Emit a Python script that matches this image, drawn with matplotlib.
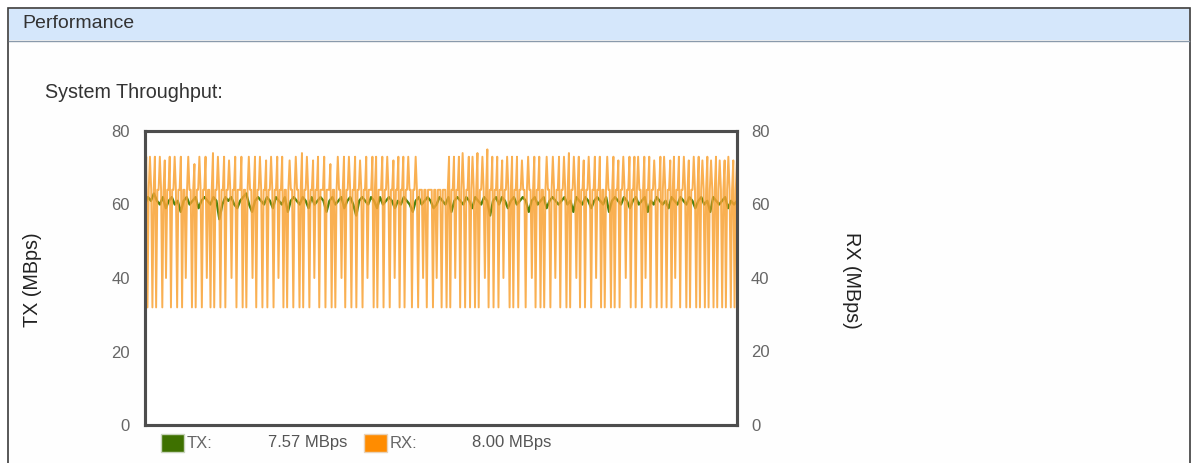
import matplotlib
matplotlib.use('Agg')
import matplotlib.pyplot as plt
from matplotlib.patches import Rectangle
import numpy as np

plt.rcParams['font.family'] = ['Liberation Sans', 'DejaVu Sans']

# RX throughput samples (MBps)
rx_values = [
    64, 73, 32, 64, 73, 64, 32, 64, 73, 32, 64, 64, 73, 64, 32, 64, 72, 40, 64, 64, 73, 32, 64, 64,
    73, 64, 32, 64, 64, 73, 32, 64, 64, 40, 64, 73, 64, 64, 32, 64, 71, 32, 64, 64, 73, 64, 32, 64,
    64, 73, 40, 64, 64, 32, 64, 74, 32, 64, 64, 73, 64, 32, 64, 64, 73, 32, 64, 64, 72, 64, 40, 64,
    64, 73, 32, 64, 64, 64, 73, 32, 64, 64, 32, 64, 73, 64, 64, 40, 64, 73, 32, 64, 64, 73, 64, 32,
    64, 64, 72, 32, 64, 64, 73, 64, 32, 64, 64, 73, 40, 64, 64, 73, 32, 64, 64, 32, 64, 72, 64, 64,
    32, 64, 73, 64, 64, 32, 64, 74, 32, 64, 64, 73, 64, 32, 64, 64, 72, 40, 64, 64, 73, 32, 64, 64,
    64, 73, 32, 64, 64, 64, 71, 32, 64, 64, 32, 64, 73, 64, 64, 40, 64, 73, 32, 64, 64, 73, 64, 32,
    64, 64, 73, 32, 64, 64, 72, 64, 32, 64, 64, 73, 40, 64, 64, 64, 73, 32, 64, 73, 32, 64, 64, 64,
    73, 32, 64, 64, 73, 64, 32, 64, 64, 72, 40, 64, 64, 73, 32, 64, 64, 73, 32, 64, 64, 73, 64, 64,
    32, 64, 64, 73, 64, 32, 64, 64, 64, 40, 64, 64, 32, 64, 64, 64, 64, 32, 64, 64, 40, 64, 64, 64,
    32, 64, 64, 64, 32, 64, 73, 32, 64, 64, 73, 40, 64, 64, 73, 32, 64, 74, 64, 32, 64, 64, 73, 32,
    64, 73, 64, 32, 64, 74, 32, 64, 64, 73, 64, 40, 64, 75, 32, 64, 64, 73, 32, 64, 64, 73, 32, 64,
    64, 72, 40, 64, 64, 73, 64, 32, 64, 73, 32, 64, 64, 73, 32, 64, 64, 72, 64, 64, 32, 64, 73, 64,
    64, 40, 64, 73, 32, 64, 64, 73, 32, 64, 64, 32, 64, 73, 64, 64, 32, 64, 73, 64, 40, 64, 64, 73,
    32, 64, 64, 73, 64, 32, 64, 74, 32, 64, 64, 73, 64, 40, 64, 73, 32, 64, 64, 72, 32, 64, 64, 73,
    64, 32, 64, 64, 73, 40, 64, 64, 73, 32, 64, 64, 32, 64, 73, 64, 64, 32, 64, 73, 32, 64, 64, 72,
    32, 64, 64, 73, 64, 40, 64, 64, 73, 32, 64, 64, 73, 32, 64, 73, 64, 64, 32, 64, 73, 40, 64, 64,
    73, 32, 64, 64, 72, 64, 32, 64, 64, 73, 32, 64, 73, 64, 32, 64, 64, 72, 32, 64, 73, 40, 64, 64,
    73, 32, 64, 64, 73, 64, 32, 64, 72, 32, 64, 64, 73, 64, 32, 64, 73, 32, 64, 72, 64, 32, 64, 73,
    32, 64, 72, 64, 32, 64, 73, 32, 64, 72, 64, 32, 64, 72, 32, 64, 73, 64, 32, 64, 72, 32, 64, 72,
]

# TX throughput samples (MBps)
tx_values = [
    60, 62, 61, 63, 61, 60, 62, 59, 61, 62, 60, 61, 58, 61, 62, 60, 61, 62, 59, 61,
    62, 61, 60, 62, 61, 56, 60, 62, 61, 62, 60, 59, 61, 62, 63, 60, 58, 61, 62, 61,
    60, 62, 61, 59, 62, 61, 60, 62, 58, 61, 62, 61, 60, 62, 61, 59, 62, 60, 61, 62,
    61, 58, 61, 62, 60, 61, 62, 59, 61, 62, 60, 57, 61, 62, 61, 60, 62, 61, 59, 62,
    60, 61, 62, 61, 59, 61, 60, 62, 61, 60, 58, 61, 62, 60, 61, 62, 61, 59, 60, 62,
    61, 60, 62, 58, 61, 62, 61, 60, 62, 61, 59, 62, 61, 60, 62, 61, 57, 61, 62, 60,
    62, 61, 59, 61, 62, 60, 61, 62, 61, 58, 61, 62, 60, 61, 62, 59, 61, 62, 61, 60,
    61, 62, 60, 61, 58, 62, 61, 60, 62, 61, 59, 61, 62, 61, 60, 62, 58, 61, 62, 61,
    60, 62, 61, 59, 61, 62, 60, 61, 62, 58, 61, 60, 62, 61, 60, 61, 59, 62, 61, 60,
    62, 61, 60, 62, 61, 59, 61, 62, 60, 61, 58, 62, 61, 60, 61, 62, 59, 61, 60, 61,
]

y_ticks = [0, 20, 40, 60, 80]
tx_current = '7.57 MBps'
rx_current = '8.00 MBps'

W, H = 1193, 463
fig = plt.figure(figsize=(W / 100, H / 100), dpi=100)
fig.patch.set_facecolor('white')


def fx(px):
    return px / W


def fy(py):
    return 1 - py / H


# panel frame and header bar (behind the axes)
fig.patches.append(Rectangle((fx(8), fy(475)), fx(1182), fy(8) - fy(475),
                             transform=fig.transFigure, facecolor='#fefefe',
                             edgecolor='#3c3c3c', linewidth=1.2, zorder=-10))
fig.patches.append(Rectangle((fx(9), fy(40)), fx(1180), fy(9) - fy(40),
                             transform=fig.transFigure, facecolor='#d5e7fb',
                             edgecolor='none', zorder=-9))
fig.add_artist(plt.Line2D([fx(9), fx(1189)], [fy(40.5), fy(40.5)],
                          transform=fig.transFigure, color='#8a9aab', linewidth=1,
                          zorder=-8))
fig.text(fx(22), fy(24), 'Performance', fontsize=14, color='#333333',
         ha='left', va='center')
fig.text(fx(45), fy(92), 'System Throughput:', fontsize=14.2, color='#333333',
         ha='left', va='center')

ax = fig.add_axes([fx(145), fy(425), fx(737) - fx(145), fy(131) - fy(425)])
ax2 = ax.twinx()

rx_x = np.arange(len(rx_values))
tx_x = np.linspace(0, len(rx_values) - 1, len(tx_values))

ax.plot(tx_x, tx_values, color='#4a800c', linewidth=1.7, zorder=2)
ax.plot(rx_x, rx_values, color='#f9a234', linewidth=1.4, alpha=0.85, zorder=3)

for a in (ax, ax2):
    a.set_ylim(0, 80)
    a.set_yticks(y_ticks)
    a.tick_params(axis='y', length=0, labelsize=12, labelcolor='#666666')
    for s in a.spines.values():
        s.set_color('#4d4d4d')
        s.set_linewidth(2.2)
ax.tick_params(axis='y', pad=11)
ax2.tick_params(axis='y', pad=10)
ax.set_xlim(0, len(rx_values) - 1)
ax.set_xticks([])
ax.set_facecolor('white')

fig.text(fx(32), fy(280), 'TX (MBps)', rotation=90, fontsize=14.2,
         color='#222222', ha='center', va='center')
fig.text(fx(852), fy(280), 'RX (MBps)', rotation=270, fontsize=14.2,
         color='#222222', ha='center', va='center')

# legend row under the plot
fig.patches.append(Rectangle((fx(161), fy(452)), fx(23), fy(434) - fy(452),
                             transform=fig.transFigure, facecolor='#3e7100',
                             edgecolor='#c8d4bc', linewidth=1))
fig.text(fx(187), fy(443), 'TX:', fontsize=12, color='#666666', ha='left', va='center')
fig.text(fx(268), fy(443), tx_current, fontsize=12, color='#555555', ha='left', va='center')
fig.patches.append(Rectangle((fx(364), fy(452)), fx(23), fy(434) - fy(452),
                             transform=fig.transFigure, facecolor='#ff8c00',
                             edgecolor='#e8d2b8', linewidth=1))
fig.text(fx(390), fy(443), 'RX:', fontsize=12, color='#666666', ha='left', va='center')
fig.text(fx(472), fy(443), rx_current, fontsize=12, color='#555555', ha='left', va='center')

fig.savefig('out.png', dpi=100)
